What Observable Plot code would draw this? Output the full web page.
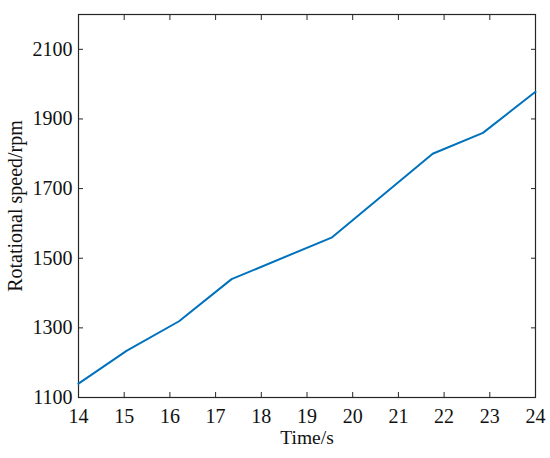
<!DOCTYPE html>
<html>
<head>
<meta charset="utf-8">
<script src="https://cdn.jsdelivr.net/npm/d3@7"></script>
<script src="https://cdn.jsdelivr.net/npm/@observablehq/plot@0.6"></script>
<style>
  html, body { margin: 0; padding: 0; background: #fff; }
  #chart svg { display: block; }
</style>
</head>
<body>
<div id="chart"></div>
<script>
const timeS = [14, 15.05, 16.2, 17.35, 19.55, 21.75, 22.85, 24];
const speedRpm = [1140, 1234, 1319, 1440, 1560, 1800, 1860, 1978];
const xTicks = [14, 15, 16, 17, 18, 19, 20, 21, 22, 23, 24];
const yTicks = [1100, 1300, 1500, 1700, 1900, 2100];
const xLabel = "Time/s";
const yLabel = "Rotational speed/rpm";

const data = timeS.map((t, i) => ({t, v: speedRpm[i]}));
const axisColor = "#262626";
const font = "Liberation Serif, Times New Roman, serif";
const fmt = d3.format("d");

const chart = Plot.plot({
  width: 550,
  height: 458,
  marginLeft: 78,
  marginRight: 15,
  marginTop: 14,
  marginBottom: 61,
  style: {fontFamily: font, fontSize: "20px", color: axisColor, background: "#fff"},
  x: {domain: [14, 24]},
  y: {domain: [1100, 2200]},
  marks: [
    Plot.axisX({anchor: "bottom", ticks: xTicks, tickFormat: fmt, tickSize: -5, tickPadding: 16, label: null, stroke: axisColor, fill: "#111", fontSize: 20}),
    Plot.axisX({anchor: "top", ticks: xTicks, tickSize: -5, tickFormat: () => "", label: null, stroke: axisColor}),
    Plot.axisY({anchor: "left", ticks: yTicks, tickFormat: fmt, tickSize: -5, tickPadding: 11, label: null, stroke: axisColor, fill: "#111", fontSize: 20}),
    Plot.axisY({anchor: "right", ticks: yTicks, tickSize: -5, tickFormat: () => "", label: null, stroke: axisColor}),
    Plot.frame({stroke: axisColor, strokeWidth: 1.2}),
    Plot.line(data, {x: "t", y: "v", stroke: "#0072BD", strokeWidth: 2}),
    Plot.text([xLabel], {frameAnchor: "bottom", dy: 40, lineAnchor: "middle", fill: "#111", fontSize: 19.5}),
    Plot.text([yLabel], {frameAnchor: "left", dx: -63, rotate: -90, textAnchor: "middle", lineAnchor: "middle", fill: "#111", fontSize: 20})
  ]
});
document.getElementById("chart").appendChild(chart);
</script>
</body>
</html>
